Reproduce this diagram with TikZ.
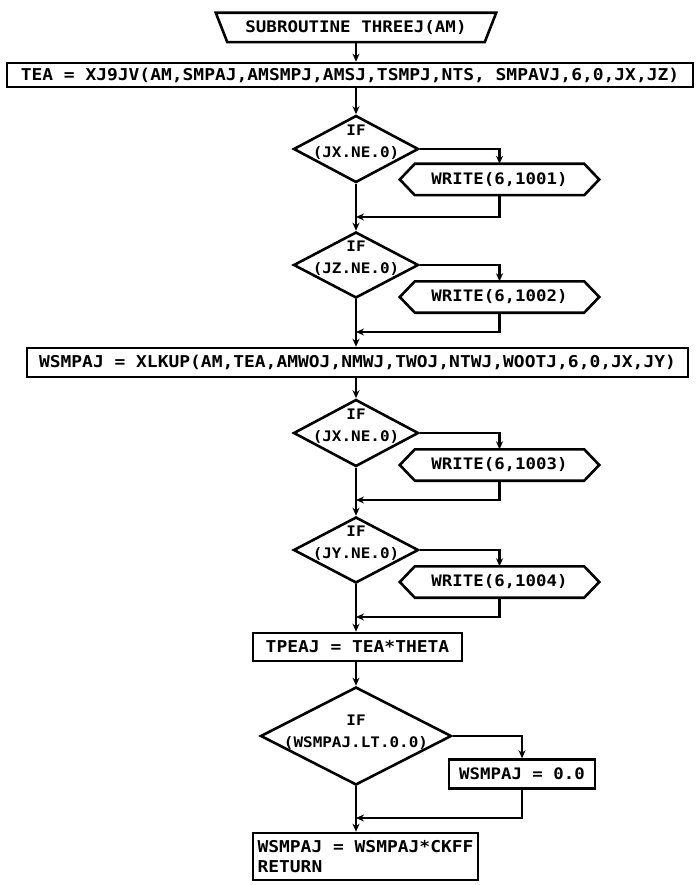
\documentclass[tikz,border=0pt]{standalone}
\usepackage{fontspec}
\usetikzlibrary{arrows.meta,shapes.geometric}
\newfontfamily\plotfont[FakeStretch=1.1]{DejaVu Sans Mono}
\newcommand{\plotsz}[2]{\plotfont\bfseries\fontsize{#1}{#2}\selectfont}
\tikzset{
  x=1pt, y=-1pt,
  shapeline/.style={line width=2.6pt, line join=miter},
  flow/.style={line width=2.6pt, -{Stealth[length=8pt,width=7pt]}},
  plain/.style={rectangle, inner sep=0pt, font=\plotsz{16.3}{20}},
  boxed/.style={plain, draw, shapeline},
  writebox/.style={plain, minimum width=169pt, minimum height=31pt, font=\plotsz{15.8}{19}},
  decision/.style={diamond, draw, shapeline, inner sep=0pt},
  dtext/.style={font=\plotsz{14.5}{22}, align=center}
}
\newcommand{\hexdraw}[1]{\draw[shapeline] ([xshift=-15pt]#1.west) -- (#1.north west) -- (#1.north east) -- ([xshift=15pt]#1.east) -- (#1.south east) -- (#1.south west) -- cycle;}
\begin{document}
\begin{tikzpicture}
\useasboundingbox[fill=white] (0,0) rectangle (700,885);

% title
\node[plain, minimum width=257pt, minimum height=29pt, font=\plotsz{15.9}{19}] (title) at (356,27.5) {SUBROUTINE THREEJ(AM)};
\draw[shapeline] ([xshift=-11.5pt]title.north west) -- ([xshift=11.5pt]title.north east) -- (title.south east) -- (title.south west) -- cycle;

% first call
\node[boxed, minimum width=686pt, minimum height=24pt] (tea) at (350,75) {TEA = XJ9JV(AM,SMPAJ,AMSMPJ,AMSJ,TSMPJ,NTS, SMPAVJ,6,0,JX,JZ)};

% decision 1
\node[decision, minimum width=125pt, minimum height=67pt] (d1) at (356,149) {};
\node[dtext] (d1t) at (356,142) {IF\\(JX.NE.0)};
\node[writebox] (w1) at (499.5,179.5) {WRITE(6,1001)};
\hexdraw{w1}
\coordinate (j1) at (356,217);

% decision 2
\node[decision, minimum width=125pt, minimum height=66pt] (d2) at (356,265) {};
\node[dtext] (d2t) at (356,258) {IF\\(JZ.NE.0)};
\node[writebox] (w2) at (499.5,297) {WRITE(6,1002)};
\hexdraw{w2}
\coordinate (j2) at (356,332);

% second call
\node[boxed, minimum width=661pt, minimum height=29pt] (xl) at (357.5,362.5) {WSMPAJ = XLKUP(AM,TEA,AMWOJ,NMWJ,TWOJ,NTWJ,WOOTJ,6,0,JX,JY)};

% decision 3
\node[decision, minimum width=125pt, minimum height=67pt] (d3) at (356,433) {};
\node[dtext] (d3t) at (356,426) {IF\\(JX.NE.0)};
\node[writebox] (w3) at (499.5,465) {WRITE(6,1003)};
\hexdraw{w3}
\coordinate (j3) at (356,500);

% decision 4
\node[decision, minimum width=125pt, minimum height=66pt] (d4) at (356,550) {};
\node[dtext] (d4t) at (356,543) {IF\\(JY.NE.0)};
\node[writebox] (w4) at (499.5,582) {WRITE(6,1004)};
\hexdraw{w4}
\coordinate (j4) at (356,617);

% TPEAJ
\node[boxed, minimum width=209pt, minimum height=28pt] (tp) at (357.5,647) {TPEAJ = TEA*THETA};

% decision 5
\node[decision, minimum width=191pt, minimum height=98pt] (d5) at (356,736) {};
\node[dtext] (d5t) at (356,732) {IF\\(WSMPAJ.LT.0.0)};
\node[boxed, minimum width=146pt, minimum height=29pt, font=\plotsz{15.8}{19}] (z) at (522,774) {WSMPAJ = 0.0};
\coordinate (j5) at (356,818);

% final
\node[boxed, minimum width=225pt, minimum height=47pt, align=left, font=\plotsz{16.3}{20}] (fin) at (365.5,856.5) {WSMPAJ = WSMPAJ*CKFF\\RETURN};

% connectors
\draw[flow] (title.south) -- (title.south |- tea.north);
\draw[flow] (d1.north |- tea.south) -- (d1.north);
\draw[flow] (d1.east) -| (w1.north);
\draw[flow] (w1.south) |- (j1);
\draw[flow] (d1.south) -- (d2.north);
\draw[flow] (d2.east) -| (w2.north);
\draw[flow] (w2.south) |- (j2);
\draw[flow] (d2.south) -- (d2.south |- xl.north);
\draw[flow] (d3.north |- xl.south) -- (d3.north);
\draw[flow] (d3.east) -| (w3.north);
\draw[flow] (w3.south) |- (j3);
\draw[flow] (d3.south) -- (d4.north);
\draw[flow] (d4.east) -| (w4.north);
\draw[flow] (w4.south) |- (j4);
\draw[flow] (d4.south) -- (d4.south |- tp.north);
\draw[flow] (d5.north |- tp.south) -- (d5.north);
\draw[flow] (d5.east) -| (z.north);
\draw[flow] (z.south) |- (j5);
\draw[flow] (d5.south) -- (d5.south |- fin.north);
\end{tikzpicture}
\end{document}
